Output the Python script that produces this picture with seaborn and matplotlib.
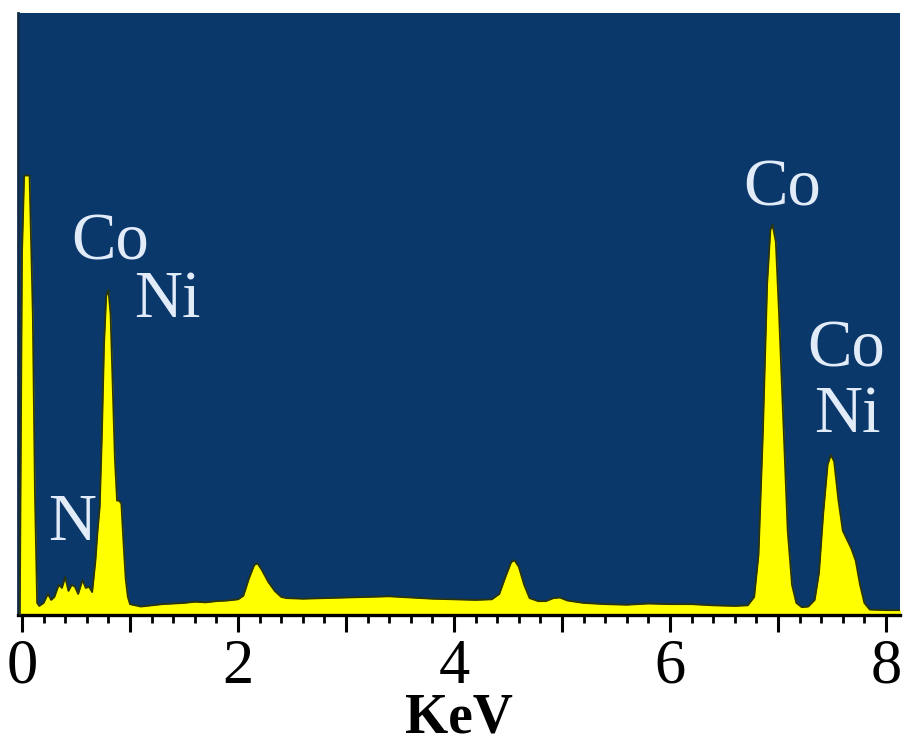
import numpy as np
import pandas as pd
import seaborn as sns
import matplotlib.pyplot as plt
from matplotlib.ticker import MultipleLocator, FuncFormatter

# EDS spectrum (energy in KeV, counts in % of axis height)
energy = [-0.02, 0.00, 0.02, 0.07, 0.10, 0.12, 0.14, 0.16, 0.20, 0.24, 0.27, 0.30, 0.34,
          0.37, 0.40, 0.43, 0.46, 0.49, 0.52, 0.56, 0.59, 0.62, 0.65, 0.68, 0.70,
          0.72, 0.74, 0.76, 0.78, 0.80, 0.82, 0.84, 0.86, 0.88, 0.90, 0.92, 0.94,
          0.96, 0.98, 1.00, 1.10, 1.20, 1.30, 1.40, 1.50, 1.60, 1.70, 1.80, 1.90,
          2.00, 2.05, 2.10, 2.15, 2.18, 2.22, 2.28, 2.34, 2.40, 2.45, 2.60, 2.80,
          3.00, 3.20, 3.40, 3.60, 3.80, 4.00, 4.20, 4.35, 4.42, 4.48, 4.53, 4.56,
          4.60, 4.65, 4.70, 4.78, 4.85, 4.92, 4.98, 5.05, 5.20, 5.40, 5.60, 5.80,
          6.00, 6.20, 6.40, 6.60, 6.72, 6.78, 6.82, 6.86, 6.90, 6.93, 6.95, 6.98,
          7.01, 7.05, 7.09, 7.13, 7.17, 7.22, 7.28, 7.34, 7.38, 7.42, 7.46, 7.49,
          7.52, 7.56, 7.60, 7.64, 7.68, 7.72, 7.76, 7.80, 7.85, 8.00, 8.16]
counts = [0.0, 60.0, 73.0, 73.0, 50.0, 20.0, 2.0, 1.5, 2.0, 3.5, 2.5, 3.0, 5.0,
          4.5, 6.3, 4.0, 5.0, 4.7, 3.5, 5.8, 4.5, 4.7, 3.8, 9.0, 14.0,
          18.0, 30.0, 45.0, 53.0, 54.0, 50.0, 38.0, 26.0, 19.0, 19.0, 18.5, 12.0,
          6.0, 3.0, 1.8, 1.4, 1.6, 1.8, 1.9, 2.0, 2.2, 2.1, 2.3, 2.4,
          2.6, 3.2, 6.0, 8.3, 8.6, 7.5, 5.5, 4.0, 3.0, 2.8, 2.7, 2.8,
          2.9, 3.0, 3.1, 2.9, 2.7, 2.6, 2.5, 2.6, 3.5, 6.5, 8.8, 9.1,
          8.0, 5.0, 2.8, 2.3, 2.3, 2.8, 2.9, 2.4, 2.0, 1.8, 1.7, 1.9,
          1.8, 1.8, 1.6, 1.5, 1.6, 3.0, 10.0, 30.0, 55.0, 64.0, 64.8, 62.0,
          50.0, 32.0, 14.0, 5.0, 2.0, 1.3, 1.4, 2.5, 7.0, 17.0, 25.0, 26.6,
          25.5, 19.0, 14.0, 12.5, 11.0, 9.0, 5.0, 2.0, 0.9, 0.8, 0.8]

# peak labels: text, x centre (KeV), baseline height
peak_text = ["Co", "Ni", "N", "Co", "Co", "Ni"]
peak_x = [0.82, 1.35, 0.46, 7.04, 7.63, 7.64]
peak_y = [59.0, 49.5, 12.5, 68.1, 41.2, 30.4]

df = pd.DataFrame({"KeV": energy, "counts": counts})

sns.set_style("white")
plt.rcParams["font.family"] = ["Liberation Serif", "DejaVu Serif"]

fig = plt.figure(figsize=(9.05, 7.44), dpi=100)
ax = fig.add_axes([18 / 905, 129 / 744, 882 / 905, 602 / 744])
ax.set_facecolor("#0a386b")

ax.fill_between(df["KeV"], 0, df["counts"], color="#ffff00", linewidth=0, zorder=2)
sns.lineplot(data=df, x="KeV", y="counts", ax=ax, color="#2a3510", linewidth=1.3, zorder=3)

for t, x, y in zip(peak_text, peak_x, peak_y):
    ax.text(x, y, t, ha="center", va="baseline", fontsize=48, color="#e2ebf8", zorder=4)

ax.set_xlim(-0.037, 8.13)
ax.set_ylim(0, 100)
ax.set_yticks([])
ax.set_ylabel("")

ax.xaxis.set_major_locator(MultipleLocator(1))
ax.xaxis.set_minor_locator(MultipleLocator(0.2))
ax.xaxis.set_major_formatter(FuncFormatter(lambda v, p: f"{v:.0f}" if round(v) % 2 == 0 else ""))
ax.tick_params(axis="x", which="major", direction="out", length=12, width=2.2,
               labelsize=45, pad=5, color="black", labelcolor="black", bottom=True)
ax.tick_params(axis="x", which="minor", direction="out", length=6, width=2,
               color="black", bottom=True)
ax.set_xlabel("KeV", fontsize=40, fontweight="bold", color="black", labelpad=-3)

for side in ["top", "right"]:
    ax.spines[side].set_visible(False)
ax.spines["bottom"].set_color("black")
ax.spines["bottom"].set_linewidth(2.4)
ax.spines["left"].set_color("#112c48")
ax.spines["left"].set_linewidth(2)

fig.savefig("out.png", dpi=100)
